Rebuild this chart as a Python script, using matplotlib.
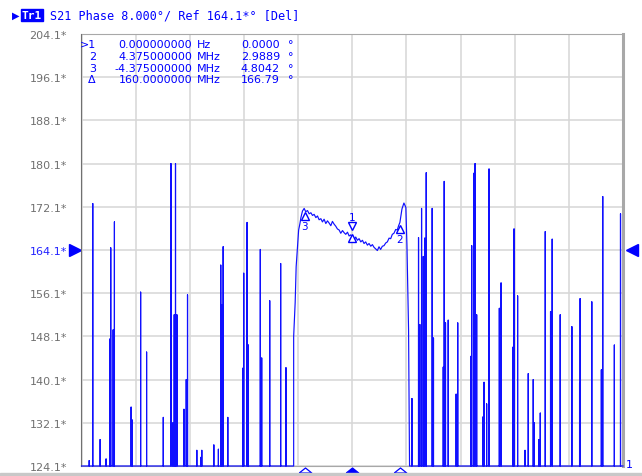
import numpy as np
import matplotlib.pyplot as plt
from matplotlib import transforms
from matplotlib.patches import Rectangle

# scale settings (read from header)
ref = 164.1
per_div = 8.0
span = 50.0  # MHz across 10 divisions
y_bot = ref - 5 * per_div
y_top = ref + 5 * per_div

# noise spikes below the band (MHz, deg)
left_f = [-24.29, -23.96, -23.28, -22.73, -22.39, -22.30, -22.08, -21.96, -20.42, -20.30,
          -19.54, -18.99, -17.45, -16.74, -16.56, -16.44, -16.32, -16.19, -15.54, -15.33,
          -15.21, -14.35, -13.98, -13.89, -12.78, -12.36, -12.14, -12.04, -11.92, -11.49,
          -10.11, -10.02, -9.71, -9.59, -8.49, -8.36, -7.62, -6.61, -6.12]
left_v = [125.1, 172.7, 129.0, 125.4, 147.6, 164.5, 149.3, 169.3, 135.0, 132.6,
          156.3, 145.2, 133.1, 180.1, 132.1, 152.1, 180.1, 152.1, 134.6, 140.1,
          155.8, 127.0, 125.7, 127.0, 128.0, 127.2, 161.3, 153.9, 164.7, 133.1,
          142.2, 159.8, 169.2, 146.5, 164.2, 144.1, 154.7, 161.6, 142.3]

# in-band phase trace
band_f = [-5.41, -5.27, -5.18, -5.05, -4.95, -4.83, -4.74, -4.60,
          -4.44, -4.30, -4.13, -3.98, -3.82, -3.67, -3.52, -3.36, -3.21, -3.06,
          -2.90, -2.75, -2.60, -2.44, -2.29, -2.14, -1.98, -1.83, -1.68, -1.52,
          -1.37, -1.21, -1.06, -0.90, -0.75, -0.60, -0.44, -0.29, -0.14, 0.02,
          0.17, 0.32, 0.48, 0.63, 0.79, 0.94, 1.09, 1.24, 1.40, 1.55,
          1.71, 1.86, 2.01, 2.16, 2.32, 2.47, 2.62, 2.78, 2.93, 3.09,
          3.24, 3.40, 3.55, 3.70, 3.85, 4.01, 4.16, 4.28, 4.40,
          4.59, 4.77, 4.95, 5.05, 5.20]
band_v = [148.1, 154.4, 161.0, 164.9, 167.8, 169.0, 170.1, 171.3,
          171.8, 171.2, 171.4, 170.8, 171.0, 170.5, 170.7, 170.1, 170.4, 169.7,
          169.9, 169.3, 169.8, 169.0, 169.5, 169.1, 168.6, 169.4, 168.9, 168.5,
          168.0, 167.8, 167.2, 167.7, 167.3, 167.0, 167.4, 166.7, 166.9, 166.4,
          166.0, 166.5, 165.9, 166.2, 165.6, 165.9, 165.3, 165.6, 165.0, 165.3,
          164.8, 165.1, 164.6, 164.3, 164.0, 164.7, 164.2, 164.8, 164.9, 165.4,
          165.6, 166.3, 166.2, 167.0, 167.2, 167.9, 167.8, 168.6, 169.2,
          171.7, 172.8, 172.0, 165.0, 149.3]

# noise spikes above the band
right_f = [5.51, 6.12, 6.24, 6.40, 6.56, 6.70, 6.83, 7.38, 7.50, 8.40,
           8.49, 8.61, 8.86, 9.59, 9.74, 10.94, 11.03, 11.22, 11.34, 11.49,
           12.08, 12.17, 12.41, 12.63, 13.58, 13.74, 14.84, 14.94, 15.27, 15.95,
           16.25, 16.71, 16.80, 17.24, 17.36, 17.82, 18.31, 18.46, 19.20, 20.28,
           20.99, 21.04, 22.12, 23.00, 23.13, 24.20, 24.77]
right_v = [136.6, 166.4, 150.3, 171.8, 162.9, 166.3, 178.4, 171.8, 147.8, 142.4,
           176.8, 150.6, 151.1, 137.4, 150.6, 144.4, 164.9, 178.3, 180.1, 152.1,
           133.2, 139.6, 135.6, 179.1, 153.3, 158.0, 146.1, 168.0, 155.6, 127.0,
           141.2, 140.1, 132.1, 129.0, 133.9, 167.5, 152.7, 166.1, 152.1, 149.9,
           139.5, 155.1, 154.5, 141.9, 174.0, 146.5, 170.8]

marker_names = ['1', '2', '3']
marker_f = [0.0, 4.375, -4.375]
table_lbl = ['>1', '2', '3', 'Δ']
table_freq = ['0.000000000', '4.375000000', '-4.375000000', '160.0000000']
table_unit = ['Hz', 'MHz', 'MHz', 'MHz']
table_val = ['0.0000', '2.9889', '4.8042', '166.79']

blue = '#0000ff'
W, H = 642, 477


def fx(x):
    return x / W


def fy(y):
    return 1 - y / H


fig = plt.figure(figsize=(W / 100, H / 100), dpi=100)
fig.patch.set_facecolor('white')
ax = fig.add_axes([fx(81.5), fy(467), (623 - 81.5) / W, (467 - 35) / H])
ax.set_xlim(-span / 2, span / 2)
ax.set_ylim(y_bot, y_top)

# build the trace: spikes go from the floor up and back
xs, ys = [-span / 2], [y_bot]
for f, v in zip(left_f, left_v):
    xs += [f, f, f]
    ys += [y_bot, v, y_bot]
xs.append(band_f[0]); ys.append(y_bot)
xs += band_f; ys += band_v
xs.append(band_f[-1] + 0.09); ys.append(y_bot)
for f, v in zip(right_f, right_v):
    xs += [f, f, f]
    ys += [y_bot, v, y_bot]
xs.append(span / 2); ys.append(y_bot)
ax.plot(xs, np.clip(ys, y_bot, y_top), color='#1010ff', lw=0.85, clip_on=False, zorder=3)

# grid
ax.set_xticks(np.linspace(-span / 2, span / 2, 11))
ax.set_xticklabels([])
yt = [y_bot + k * per_div for k in range(11)]
ax.set_yticks(yt)
ax.set_yticklabels(['%.1f*' % t for t in yt], fontsize=8, color='#707070')
for lab in ax.get_yticklabels():
    if lab.get_text() == '%.1f*' % ref:
        lab.set_color('#2222ff')
ax.tick_params(length=0, pad=10.5)
ax.grid(True, color='#d6d6d6', lw=1.1)
ax.set_axisbelow(True)
ax.spines['left'].set_color('#707070')
ax.spines['top'].set_color('#a8a8a8')
ax.spines['bottom'].set_color('#a8a8a8')
ax.spines['right'].set_color('#a8a8a8')
ax.spines['right'].set_linewidth(2.2)

# markers on trace
def off(dy):
    return transforms.offset_copy(ax.transData, fig=fig, x=0, y=dy, units='dots')

for name, f in zip(marker_names, marker_f):
    v = np.interp(f, band_f, band_v)
    if name == '1':
        ax.plot(f, v, marker='v', ms=6, mfc='white', mec=blue, mew=1.0, transform=off(11), zorder=5)
        ax.plot(f, v, marker='^', ms=6, mfc='white', mec=blue, mew=1.0, transform=off(-1), zorder=5)
        ax.text(f, v, name, transform=off(20), ha='center', va='center', fontsize=7.5, color=blue, zorder=5)
    else:
        ax.plot(f, v, marker='^', ms=6, mfc='white', mec=blue, mew=1.0, transform=off(-6), zorder=5)
        ax.text(f, v, name, transform=off(-16), ha='center', va='center', fontsize=7.5, color=blue, zorder=5)

# stimulus markers under the axis
tri = [(-1, -0.4), (0, 0.4), (1, -0.4), (-1, -0.4)]
btrans = transforms.blended_transform_factory(ax.transData, ax.transAxes)
for name, f in zip(marker_names, marker_f):
    ax.plot(f, -3.8 / 432, marker=tri, ms=9, mfc=blue if name == '1' else 'white',
            mec=blue, mew=0.9, transform=btrans, clip_on=False, zorder=5)

# reference level arrows
ryy = (ref - y_bot) / (y_top - y_bot)
ax.plot(-0.012, ryy, marker='>', ms=8, color=blue, transform=ax.transAxes, clip_on=False)
ax.plot(1.016, ryy, marker='<', ms=8, color=blue, transform=ax.transAxes, clip_on=False)
fig.text(fx(629), fy(465), '1', fontsize=8, color=blue, ha='center', va='center')

# marker table
for i in range(4):
    y = fy(45 + i * 11.8)
    fig.text(fx(96), y, table_lbl[i], fontsize=8, color=blue, ha='right', va='center')
    fig.text(fx(192), y, table_freq[i], fontsize=8, color=blue, ha='right', va='center')
    fig.text(fx(197), y, table_unit[i], fontsize=8, color=blue, ha='left', va='center')
    fig.text(fx(280), y, table_val[i], fontsize=8, color=blue, ha='right', va='center')
    fig.text(fx(291), y, '°', fontsize=8, color=blue, ha='center', va='center')

# header
fig.text(fx(16), fy(16), '▶', fontsize=7, color=blue, ha='center', va='center')
fig.text(fx(32), fy(16), 'Tr1', fontsize=8, color='white', ha='center', va='center',
         family='DejaVu Sans Mono', weight='bold',
         bbox=dict(boxstyle='square,pad=0.1', fc=blue, ec=blue))
fig.text(fx(50), fy(16), 'S21 Phase 8.000°/ Ref 164.1*° [Del]', fontsize=8.5,
         color=blue, ha='left', va='center', family='DejaVu Sans Mono')

fig.patches.append(Rectangle((0, 0), 1, 3 / H, transform=fig.transFigure, color='#c8c8c8'))

fig.savefig('out.png', dpi=100)
